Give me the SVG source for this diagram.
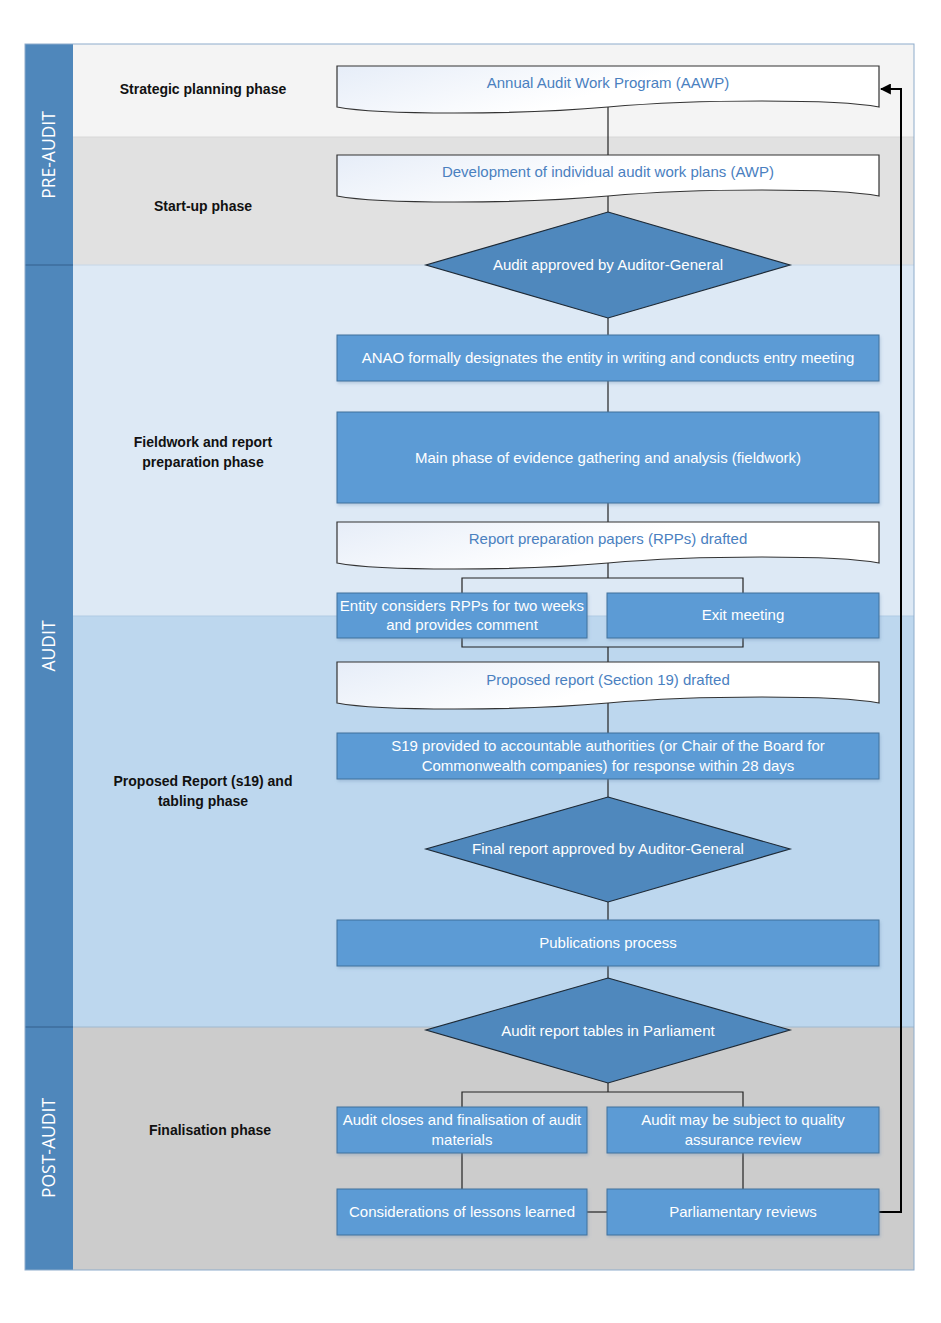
<svg xmlns="http://www.w3.org/2000/svg" width="941" height="1323" viewBox="0 0 941 1323">
<defs>
<linearGradient id="docg" x1="0" y1="0" x2="1" y2="0.3">
<stop offset="0" stop-color="#e6edf8"/>
<stop offset="0.6" stop-color="#ffffff"/>
<stop offset="1" stop-color="#ffffff"/>
</linearGradient>
<filter id="sh" x="-5%" y="-10%" width="110%" height="130%">
<feDropShadow dx="1" dy="2" stdDeviation="1.5" flood-color="#6a8fb5" flood-opacity="0.35"/>
</filter>
<marker id="arr" viewBox="0 0 10 10" refX="9" refY="5" markerWidth="11" markerHeight="11" orient="auto" markerUnits="userSpaceOnUse">
<path d="M0,0 L10,5 L0,10 z" fill="#000"/>
</marker>
</defs>
<style>
.lbl{font-family:"Liberation Sans",Arial,sans-serif;font-size:14px;font-weight:bold;fill:#111;text-anchor:middle}
.side{font-family:"Open Sans","Liberation Sans",sans-serif;font-size:17.5px;fill:#fff;text-anchor:middle}
.doc{fill:url(#docg);stroke:#333;stroke-width:1.2}
.doct{font-family:"Liberation Sans",Arial,sans-serif;font-size:15px;fill:#4a80bf;text-anchor:middle}
.box{fill:#5b9bd5;stroke:#41719c;stroke-width:1;filter:url(#sh)}
.dia{fill:#4f88bd;stroke:#1e2a36;stroke-width:1.2}
.wt{font-family:"Liberation Sans",Arial,sans-serif;font-size:15px;fill:#fff;text-anchor:middle}
.con{fill:none;stroke:#222;stroke-width:1.2}
</style>
<rect width="941" height="1323" fill="#fff"/>
<g id="lanes">
<rect x="73" y="44" width="841" height="93" fill="#f4f4f4"/>
<rect x="73" y="137" width="841" height="128" fill="#e1e1e1"/>
<rect x="73" y="265" width="841" height="351" fill="#dde9f5"/>
<rect x="73" y="616" width="841" height="411" fill="#bdd7ee"/>
<rect x="73" y="1027" width="841" height="243" fill="#cccccc"/>
<line x1="73" y1="137" x2="914" y2="137" stroke="#d8d8d8" stroke-width="1"/>
<line x1="73" y1="265" x2="914" y2="265" stroke="#c6d6e6" stroke-width="1"/>
<line x1="73" y1="616" x2="914" y2="616" stroke="#b0cbe3" stroke-width="1"/>
<line x1="73" y1="1027" x2="914" y2="1027" stroke="#9fb8cf" stroke-width="1"/>
<rect x="25" y="44" width="48" height="1226" fill="#4f87bb"/>
<line x1="25" y1="265" x2="73" y2="265" stroke="#3d6d9c" stroke-width="1.5"/>
<line x1="25" y1="1027" x2="73" y2="1027" stroke="#3d6d9c" stroke-width="1.5"/>
<rect x="25" y="44" width="889" height="1226" fill="none" stroke="#8eaccb" stroke-width="1"/>
<text class="side" transform="translate(55,155) rotate(-90)">PRE-AUDIT</text>
<text class="side" transform="translate(55,646) rotate(-90)">AUDIT</text>
<text class="side" transform="translate(55,1148) rotate(-90)">POST-AUDIT</text>
<text class="lbl" x="203" y="94">Strategic planning phase</text>
<text class="lbl" x="203" y="211">Start-up phase</text>
<text class="lbl" x="203" y="447">Fieldwork and report</text>
<text class="lbl" x="203" y="467">preparation phase</text>
<text class="lbl" x="203" y="786">Proposed Report (s19) and</text>
<text class="lbl" x="203" y="806">tabling phase</text>
<text class="lbl" x="210" y="1135">Finalisation phase</text>
</g>
<g id="connectors">
<line class="con" x1="608" y1="107" x2="608" y2="155"/>
<line class="con" x1="608" y1="196" x2="608" y2="212"/>
<line class="con" x1="608" y1="318" x2="608" y2="335"/>
<line class="con" x1="608" y1="381" x2="608" y2="412"/>
<line class="con" x1="608" y1="503" x2="608" y2="522"/>
<path class="con" d="M608,563 V578 M462,593 V578 H743 V593"/>
<path class="con" d="M462,638 V647 H743 V638 M608,647 V662"/>
<line class="con" x1="608" y1="703" x2="608" y2="733"/>
<line class="con" x1="608" y1="779" x2="608" y2="797"/>
<line class="con" x1="608" y1="902" x2="608" y2="920"/>
<line class="con" x1="608" y1="966" x2="608" y2="978"/>
<path class="con" d="M608,1083 V1092 M462,1107 V1092 H743 V1107"/>
<line class="con" x1="462" y1="1153" x2="462" y2="1189"/>
<line class="con" x1="743" y1="1153" x2="743" y2="1189"/>
<line class="con" x1="587" y1="1212" x2="607" y2="1212"/>
<path d="M879,1212 H901 V89 H881" fill="none" stroke="#000" stroke-width="2" marker-end="url(#arr)"/>
</g>
<g id="n-aawp">
<path class="doc" d="M337,66 H879 V107 C837,99 698,99 608,107 C518,115 379,115 337,107 Z"/>
<text class="doct" x="608" y="88">Annual Audit Work Program (AAWP)</text>
</g>
<g id="n-awp">
<path class="doc" d="M337,155 H879 V196 C837,188 698,188 608,196 C518,204 379,204 337,196 Z"/>
<text class="doct" x="608" y="177">Development of individual audit work plans (AWP)</text>
</g>
<g id="n-approved">
<polygon class="dia" points="608,212 790,265 608,318 426,265"/>
<text class="wt" x="608" y="270">Audit approved by Auditor-General</text>
</g>
<g id="n-anao">
<rect class="box" x="337" y="335" width="542" height="46"/>
<text class="wt" x="608" y="363">ANAO formally designates the entity in writing and conducts entry meeting</text>
</g>
<g id="n-main">
<rect class="box" x="337" y="412" width="542" height="91"/>
<text class="wt" x="608" y="463">Main phase of evidence gathering and analysis (fieldwork)</text>
</g>
<g id="n-rpp">
<path class="doc" d="M337,522 H879 V563 C837,555 698,555 608,563 C518,571 379,571 337,563 Z"/>
<text class="doct" x="608" y="544">Report preparation papers (RPPs) drafted</text>
</g>
<g id="n-entity">
<rect class="box" x="337" y="593" width="250" height="45"/>
<text class="wt" x="462" y="611">Entity considers RPPs for two weeks</text>
<text class="wt" x="462" y="630">and provides comment</text>
</g>
<g id="n-exit">
<rect class="box" x="607" y="593" width="272" height="45"/>
<text class="wt" x="743" y="620">Exit meeting</text>
</g>
<g id="n-proposed">
<path class="doc" d="M337,662 H879 V703 C837,695 698,695 608,703 C518,711 379,711 337,703 Z"/>
<text class="doct" x="608" y="685">Proposed report (Section 19) drafted</text>
</g>
<g id="n-s19">
<rect class="box" x="337" y="733" width="542" height="46"/>
<text class="wt" x="608" y="751">S19 provided to accountable authorities (or Chair of the Board for</text>
<text class="wt" x="608" y="771">Commonwealth companies) for response within 28 days</text>
</g>
<g id="n-final">
<polygon class="dia" points="608,797 790,849 608,902 426,849"/>
<text class="wt" x="608" y="854">Final report approved by Auditor-General</text>
</g>
<g id="n-pub">
<rect class="box" x="337" y="920" width="542" height="46"/>
<text class="wt" x="608" y="948">Publications process</text>
</g>
<g id="n-tables">
<polygon class="dia" points="608,978 790,1030 608,1083 426,1030"/>
<text class="wt" x="608" y="1036">Audit report tables in Parliament</text>
</g>
<g id="n-closes">
<rect class="box" x="337" y="1107" width="250" height="46"/>
<text class="wt" x="462" y="1125">Audit closes and finalisation of audit</text>
<text class="wt" x="462" y="1145">materials</text>
</g>
<g id="n-qa">
<rect class="box" x="607" y="1107" width="272" height="46"/>
<text class="wt" x="743" y="1125">Audit may be subject to quality</text>
<text class="wt" x="743" y="1145">assurance review</text>
</g>
<g id="n-lessons">
<rect class="box" x="337" y="1189" width="250" height="46"/>
<text class="wt" x="462" y="1217">Considerations of lessons learned</text>
</g>
<g id="n-parl">
<rect class="box" x="607" y="1189" width="272" height="46"/>
<text class="wt" x="743" y="1217">Parliamentary reviews</text>
</g>
</svg>
